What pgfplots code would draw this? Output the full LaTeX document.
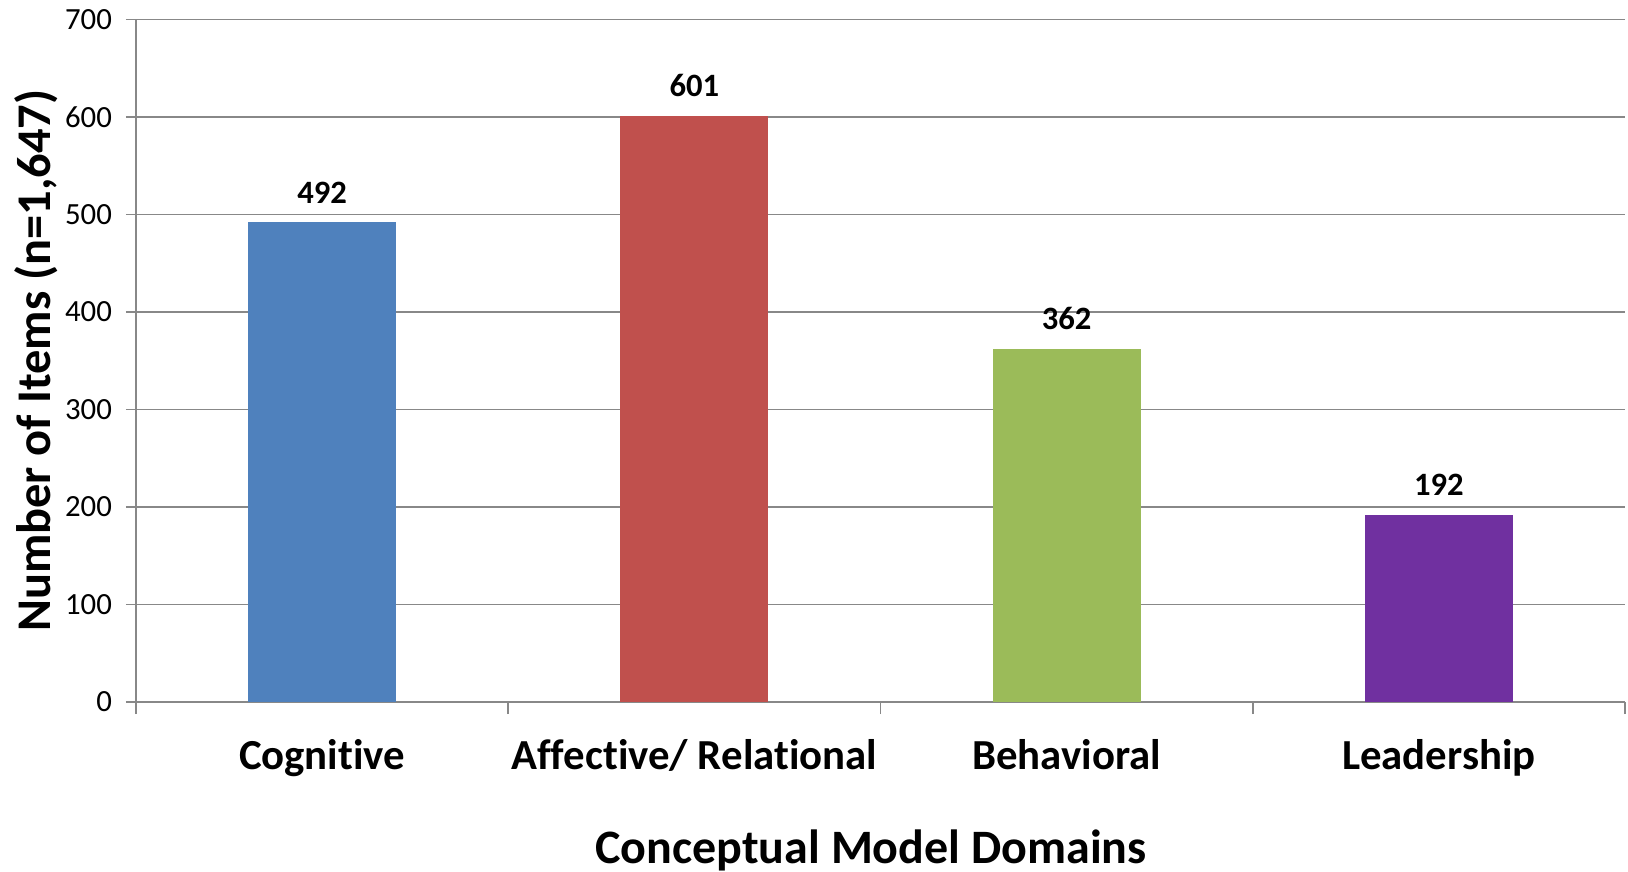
\documentclass[border=0pt]{standalone}
\usepackage{pgfplots}
\pgfplotsset{compat=1.18}
\usepackage{fontspec}
\setmainfont{Carlito}[Ligatures=NoCommon]
\definecolor{cblue}{HTML}{4F81BD}
\definecolor{cred}{HTML}{C0504D}
\definecolor{cgreen}{HTML}{9BBB59}
\definecolor{cpurple}{HTML}{7030A0}
\definecolor{axgray}{HTML}{888888}
\begin{document}
\begin{tikzpicture}
\path[use as bounding box] (-68bp,-85bp) rectangle (746bp,351bp);
\begin{axis}[
  at={(0,0)}, anchor=south west,
  scale only axis, width=744.5bp, height=341.2bp,
  xmin=-0.5, xmax=3.5, ymin=0, ymax=700,
  ytick={0,100,...,700},
  xtick={0,1,2,3},
  xticklabels={Cognitive,Affective/ Relational,Behavioral,Leadership},
  minor xtick={-0.5,0.5,1.5,2.5,3.5},
  major x tick style={draw=none},
  minor x tick style={draw=axgray, line width=0.8pt},
  tick align=outside, tick pos=left,
  major tick length=5bp, minor tick length=6bp,
  ymajorgrids, grid style={axgray, line width=0.8pt},
  y tick style={draw=axgray, line width=0.8pt},
  axis line style={axgray, line width=0.8pt},
  axis x line*=bottom, axis y line*=left,
  /pgf/number format/assume math mode=true,
  yticklabel style={font=\fontsize{15.4bp}{17bp}\selectfont, xshift=-3.5bp},
  xticklabel style={font=\fontsize{21.4bp}{24bp}\selectfont\bfseries, yshift=-10bp},
  ylabel={\textbf{Number of Items (n=1,647)}},
  ylabel style={font=\fontsize{24.2bp}{27bp}\selectfont, at={(axis description cs:-0.0672,0.5)}, anchor=center},
  xlabel={\textbf{Conceptual Model Domains}},
  xlabel style={font=\fontsize{24bp}{27bp}\selectfont, yshift=-20bp, xshift=-4.7bp},
  nodes near coords,
  every node near coord/.append style={font=\fontsize{16.3bp}{18bp}\selectfont\bfseries, yshift=6bp},
  ybar, bar width=74bp, bar shift=0pt,
]
\addplot[fill=cblue, draw=none] coordinates {(0,492)};
\addplot[fill=cred, draw=none] coordinates {(1,601)};
\addplot[fill=cgreen, draw=none] coordinates {(2,362)};
\addplot[fill=cpurple, draw=none] coordinates {(3,192)};
\end{axis}
\end{tikzpicture}
\end{document}
